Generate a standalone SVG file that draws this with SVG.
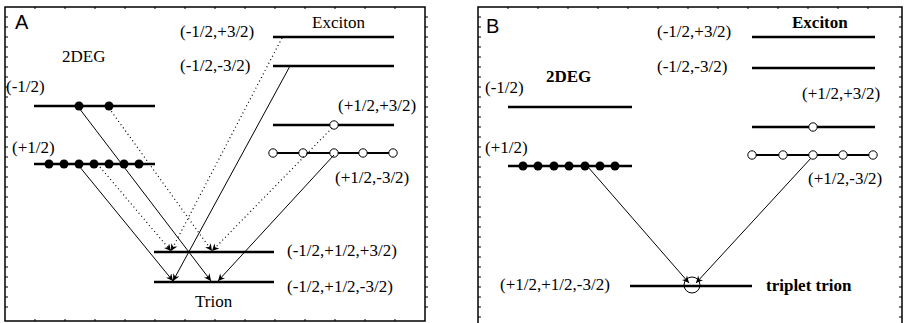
<svg xmlns="http://www.w3.org/2000/svg" width="905" height="323" viewBox="0 0 905 323">
<defs>
<style>
.frame{fill:none;stroke:#000;stroke-width:1.5}
.tick{stroke:#000;stroke-width:1}
.lvl{stroke:#000;stroke-width:2.6;fill:none}
.lvl2{stroke:#000;stroke-width:2;fill:none}
.dot{fill:#000}
.hole{fill:#fff;stroke:#000;stroke-width:1}
.t{font-family:"Liberation Serif","Times New Roman",serif;font-size:17px;fill:#000}
.tb{font-family:"Liberation Serif","Times New Roman",serif;font-size:17px;font-weight:bold;fill:#000}
.pl{font-family:"Liberation Sans",Arial,sans-serif;font-size:20px;fill:#000}
.sol{stroke:#000;stroke-width:1;fill:none;marker-end:url(#ah)}
.dts{stroke:#000;stroke-width:1.2;fill:none;stroke-dasharray:1 3;marker-end:url(#ah)}
</style>
<marker id="ah" viewBox="0 0 10 10" refX="10" refY="5" markerWidth="8" markerHeight="7" markerUnits="userSpaceOnUse" orient="auto">
<path d="M0,0 L10,5 L0,10 L3,5 z" fill="#000"/>
</marker>
</defs>
<rect width="905" height="323" fill="#fff"/>

<g id="frameA">
<rect class="frame" x="5" y="7" width="420" height="314"/>
<path class="tick" d="M5,17h3M5,27h3M5,37h3M5,47h3M5,57h3M5,67h3M5,77h3M5,87h3M5,97h3M5,107h3M5,117h3M5,127h3M5,137h3M5,147h3M5,157h3M5,167h3M5,177h3M5,187h3M5,197h3M5,207h3M5,217h3M5,227h3M5,237h3M5,247h3M5,257h3M5,267h3M5,277h3M5,287h3M5,297h3M5,307h3
M425,17h3M425,27h3M425,37h3M425,47h3M425,57h3M425,67h3M425,77h3M425,87h3M425,97h3M425,107h3M425,117h3M425,127h3M425,137h3M425,147h3M425,157h3M425,167h3M425,177h3M425,187h3M425,197h3M425,207h3M425,217h3M425,227h3M425,237h3M425,247h3M425,257h3M425,267h3M425,277h3M425,287h3M425,297h3M425,307h3
M35,7v2M65,7v2M95,7v2M125,7v2M155,7v2M185,7v2M215,7v2M245,7v2M275,7v2M305,7v2M335,7v2M365,7v2M395,7v2
M35,321v-2M65,321v-2M95,321v-2M125,321v-2M155,321v-2M185,321v-2M215,321v-2M245,321v-2M275,321v-2M305,321v-2M335,321v-2M365,321v-2M395,321v-2"/>
<text class="pl" x="15" y="29">A</text>
</g>

<g id="frameB">
<path class="frame" d="M478,330V7H902V330"/>
<path class="tick" d="M478,17h3M478,27h3M478,37h3M478,47h3M478,57h3M478,67h3M478,77h3M478,87h3M478,97h3M478,107h3M478,117h3M478,127h3M478,137h3M478,147h3M478,157h3M478,167h3M478,177h3M478,187h3M478,197h3M478,207h3M478,217h3M478,227h3M478,237h3M478,247h3M478,257h3M478,267h3M478,277h3M478,287h3M478,297h3M478,307h3M478,317h3
M902,17h-3M902,27h-3M902,37h-3M902,47h-3M902,57h-3M902,67h-3M902,77h-3M902,87h-3M902,97h-3M902,107h-3M902,117h-3M902,127h-3M902,137h-3M902,147h-3M902,157h-3M902,167h-3M902,177h-3M902,187h-3M902,197h-3M902,207h-3M902,217h-3M902,227h-3M902,237h-3M902,247h-3M902,257h-3M902,267h-3M902,277h-3M902,287h-3M902,297h-3M902,307h-3M902,317h-3
M508,7v2M538,7v2M568,7v2M598,7v2M628,7v2M658,7v2M688,7v2M718,7v2M748,7v2M778,7v2M808,7v2M838,7v2M868,7v2"/>
<text class="pl" x="486" y="33">B</text>
</g>

<!-- Panel A -->
<g id="A-2deg-m">
<text class="t" x="62" y="62">2DEG</text>
<text class="t" x="6" y="92">(-1/2)</text>
<line class="lvl" x1="34" y1="106" x2="155" y2="106"/>
<circle class="dot" cx="79" cy="106" r="4.5"/>
<circle class="dot" cx="109" cy="106" r="4.5"/>
</g>
<g id="A-2deg-p">
<text class="t" x="12" y="153">(+1/2)</text>
<line class="lvl" x1="34" y1="164" x2="155" y2="164"/>
<circle class="dot" cx="49" cy="164" r="4.5"/>
<circle class="dot" cx="64" cy="164" r="4.5"/>
<circle class="dot" cx="79" cy="164" r="4.5"/>
<circle class="dot" cx="94" cy="164" r="4.5"/>
<circle class="dot" cx="109" cy="164" r="4.5"/>
<circle class="dot" cx="124" cy="164" r="4.5"/>
<circle class="dot" cx="139" cy="164" r="4.5"/>
</g>
<g id="A-ex1">
<text class="t" x="312" y="28">Exciton</text>
<text class="t" x="180" y="37">(-1/2,+3/2)</text>
<line class="lvl" x1="273" y1="37" x2="394" y2="37"/>
</g>
<g id="A-ex2">
<text class="t" x="180" y="71">(-1/2,-3/2)</text>
<line class="lvl" x1="273" y1="66" x2="394" y2="66"/>
</g>
<g id="A-ex3">
<text class="t" x="338" y="111">(+1/2,+3/2)</text>
<line class="lvl" x1="273" y1="125" x2="394" y2="125"/>
<circle class="hole" cx="334" cy="125" r="4.2"/>
</g>
<g id="A-ex4">
<line class="lvl2" x1="273" y1="153" x2="393" y2="153"/>
<circle class="hole" cx="273" cy="153" r="4.2"/>
<circle class="hole" cx="303" cy="153" r="4.2"/>
<circle class="hole" cx="334" cy="153" r="4.2"/>
<circle class="hole" cx="363" cy="153" r="4.2"/>
<circle class="hole" cx="393" cy="153" r="4.2"/>
<text class="t" x="335" y="183">(+1/2,-3/2)</text>
</g>
<g id="A-trion1">
<line class="lvl" x1="154" y1="252" x2="274" y2="252"/>
<text class="t" x="287" y="256">(-1/2,+1/2,+3/2)</text>
</g>
<g id="A-trion2">
<line class="lvl" x1="154" y1="282" x2="274" y2="282"/>
<text class="t" x="287" y="292">(-1/2,+1/2,-3/2)</text>
<text class="t" x="195" y="307">Trion</text>
</g>

<g id="connectors">
<line class="sol" x1="79" y1="108" x2="211" y2="281"/>
<line class="sol" x1="79" y1="166" x2="173" y2="281"/>
<line class="sol" x1="290" y1="66" x2="173" y2="281"/>
<line class="sol" x1="334" y1="155" x2="218" y2="281"/>
<line class="dts" x1="109" y1="108" x2="212" y2="251"/>
<line class="dts" x1="100" y1="167" x2="171" y2="251"/>
<line class="dts" x1="282" y1="38" x2="171" y2="251"/>
<line class="dts" x1="332" y1="128" x2="212" y2="251"/>
<line class="sol" x1="588" y1="167" x2="689" y2="283"/>
<line class="sol" x1="812" y1="157" x2="696" y2="283"/>
</g>

<!-- Panel B -->
<g id="B-2deg-m">
<text class="tb" x="546" y="82">2DEG</text>
<text class="t" x="485" y="93">(-1/2)</text>
<line class="lvl" x1="508" y1="107" x2="632" y2="107"/>
</g>
<g id="B-2deg-p">
<text class="t" x="485" y="153">(+1/2)</text>
<line class="lvl" x1="508" y1="166" x2="632" y2="166"/>
<circle class="dot" cx="523" cy="166" r="4.5"/>
<circle class="dot" cx="538" cy="166" r="4.5"/>
<circle class="dot" cx="554" cy="166" r="4.5"/>
<circle class="dot" cx="569" cy="166" r="4.5"/>
<circle class="dot" cx="585" cy="166" r="4.5"/>
<circle class="dot" cx="600" cy="166" r="4.5"/>
<circle class="dot" cx="615" cy="166" r="4.5"/>
</g>
<g id="B-ex1">
<text class="tb" x="792" y="28">Exciton</text>
<text class="t" x="657" y="37">(-1/2,+3/2)</text>
<line class="lvl" x1="752" y1="37" x2="875" y2="37"/>
</g>
<g id="B-ex2">
<text class="t" x="657" y="72">(-1/2,-3/2)</text>
<line class="lvl" x1="752" y1="68" x2="875" y2="68"/>
</g>
<g id="B-ex3">
<text class="t" x="802" y="99">(+1/2,+3/2)</text>
<line class="lvl" x1="752" y1="127" x2="875" y2="127"/>
<circle class="hole" cx="813" cy="127" r="4.2"/>
</g>
<g id="B-ex4">
<line class="lvl2" x1="752" y1="155" x2="873" y2="155"/>
<circle class="hole" cx="752" cy="155" r="4.2"/>
<circle class="hole" cx="783" cy="155" r="4.2"/>
<circle class="hole" cx="813" cy="155" r="4.2"/>
<circle class="hole" cx="843" cy="155" r="4.2"/>
<circle class="hole" cx="873" cy="155" r="4.2"/>
<text class="t" x="808" y="184">(+1/2,-3/2)</text>
</g>
<g id="B-triplet">
<text class="t" x="500" y="290">(+1/2,+1/2,-3/2)</text>
<line class="lvl" x1="630" y1="286" x2="752" y2="286"/>
<circle cx="692" cy="285" r="8" fill="none" stroke="#000" stroke-width="1"/>
<text class="tb" x="766" y="291">triplet trion</text>
</g>
</svg>
